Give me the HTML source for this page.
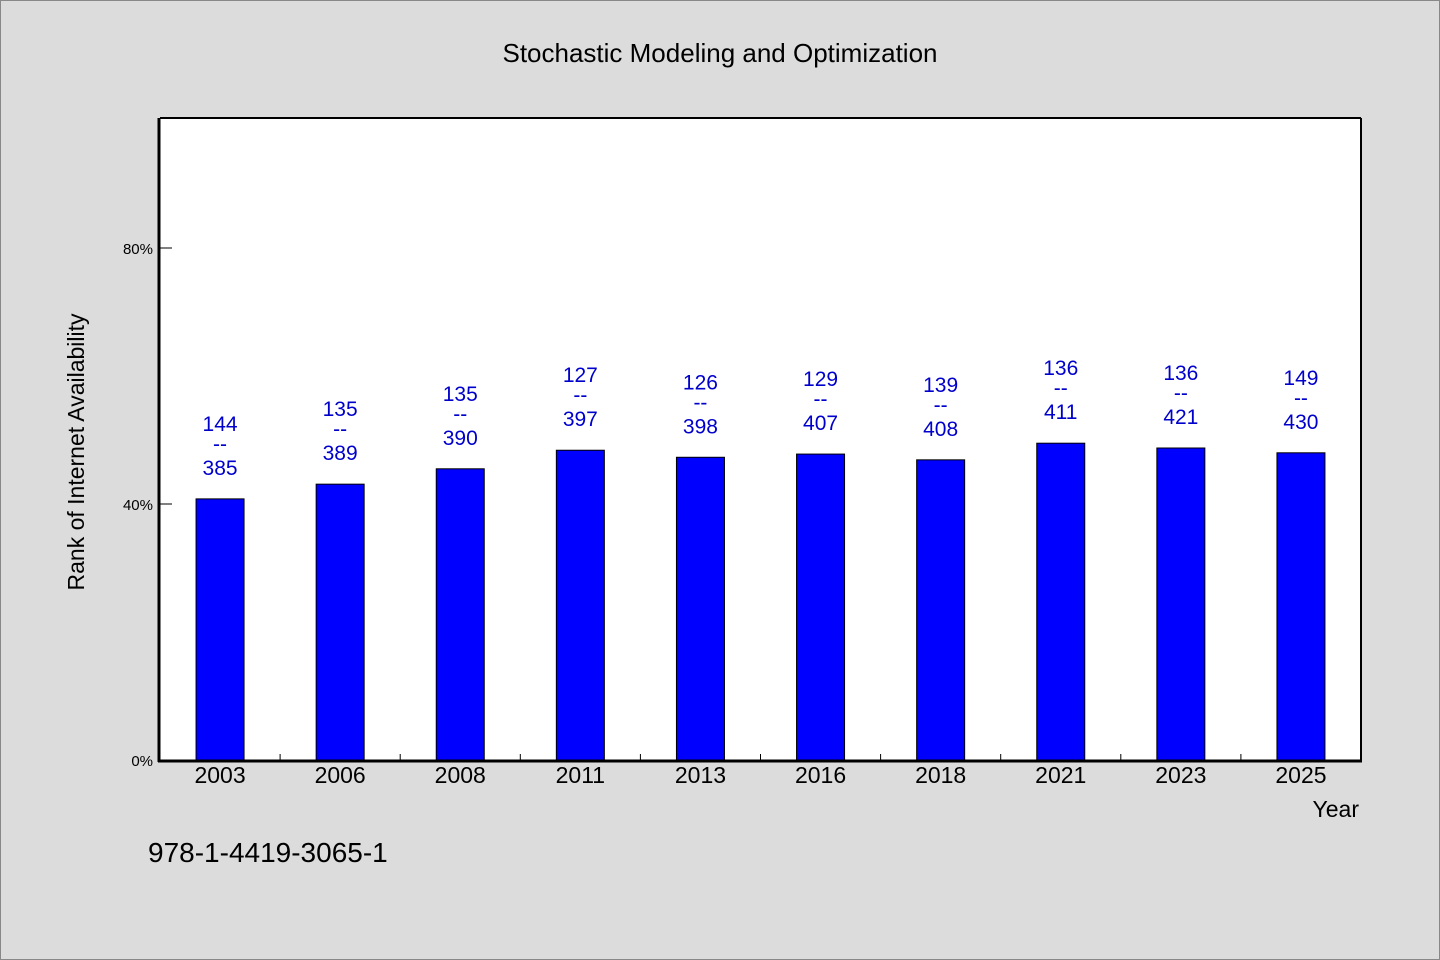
<!DOCTYPE html>
<html><head><meta charset="utf-8"><style>
body{margin:0;background:#dcdcdc;}
svg{display:block;font-family:"WenQuanYi Zen Hei","Liberation Sans",sans-serif;}
</style></head><body>
<svg id="c" width="1440" height="960">
<rect x="0.5" y="0.5" width="1439" height="959" fill="#dcdcdc" stroke="#888"/>
<text x="720" y="62" text-anchor="middle" font-size="26">Stochastic Modeling and Optimization</text>
<rect x="160" y="119" width="1201" height="642" fill="#fff"/>
<g id="bars"></g><g id="labels"></g><g id="ticks"></g>
<line x1="160" y1="118" x2="1361" y2="118" stroke="#000" stroke-width="2"/>
<line x1="1361" y1="118" x2="1361" y2="761" stroke="#000" stroke-width="2"/>
<line x1="159" y1="118" x2="159" y2="762" stroke="#000" stroke-width="3"/>
<line x1="158" y1="761" x2="1362" y2="761" stroke="#000" stroke-width="3"/>
<text transform="translate(84,452) rotate(-90)" text-anchor="middle" font-size="23">Rank of Internet Availability</text>
<text x="1359" y="817" text-anchor="end" font-size="23">Year</text>
<text x="148" y="862" font-size="28" font-family="Liberation Sans, sans-serif">978-1-4419-3065-1</text>
</svg>
<script>
const categories=["2003","2006","2008","2011","2013","2016","2018","2021","2023","2025"];
const values=[40.8,43.1,45.5,48.4,47.3,47.8,46.9,49.5,48.75,48.0];
const topLabels=["144","135","135","127","126","129","139","136","136","149"];
const bottomLabels=["385","389","390","397","398","407","408","411","421","430"];
const yTicks=[0,40,80];
const NS="http://www.w3.org/2000/svg";
const x0=160,x1=1361,y0=760,pxPer=6.4;
const band=(x1-x0)/categories.length;
const xs=i=>x0+band*(i+0.5);
const ys=v=>y0-v*pxPer;
function mk(t,a,p,txt){const e=document.createElementNS(NS,t);for(const k in a)e.setAttribute(k,a[k]);if(txt!=null)e.textContent=txt;p.appendChild(e);return e;}
const gb=document.getElementById('bars'),gl=document.getElementById('labels'),gt=document.getElementById('ticks');
categories.forEach((c,i)=>{
 const cx=xs(i),top=ys(values[i]);
 const r=mk('rect',{x:cx-24,y:top,width:48,height:y0-top,fill:'#0000ff',stroke:'#000','stroke-width':1},gb);
 
 
 const t1=mk('text',{x:cx,y:top-68,'text-anchor':'middle','font-size':21,fill:'#0000cc','font-family':'Liberation Sans, sans-serif'},gl,topLabels[i]);
 
 
 const t2=mk('text',{x:cx,y:top-48,'text-anchor':'middle','font-size':21,fill:'#0000cc','font-family':'Liberation Sans, sans-serif'},gl,'--');
 
 
 const t3=mk('text',{x:cx,y:top-24,'text-anchor':'middle','font-size':21,fill:'#0000cc','font-family':'Liberation Sans, sans-serif'},gl,bottomLabels[i]);
 
 
 const xl=mk('text',{x:cx,y:783,'text-anchor':'middle','font-size':23,'font-family':'Liberation Sans, sans-serif'},gt,c);
 
 
 if(i>0){const tk=mk('line',{x1:x0+band*i,y1:760,x2:x0+band*i,y2:754,stroke:'#000','stroke-width':1},gt);
 
 }
});
yTicks.forEach(v=>{
 const y=ys(v);
 const tk=mk('line',{x1:160,y1:y,x2:172,y2:y,stroke:'#000','stroke-width':1},gt);
 
 
 const tl=mk('text',{x:153,y:y+6,'text-anchor':'end','font-size':15,'font-family':'Liberation Sans, sans-serif'},gt,v+'%');
 
 
});
</script>
</body></html>
